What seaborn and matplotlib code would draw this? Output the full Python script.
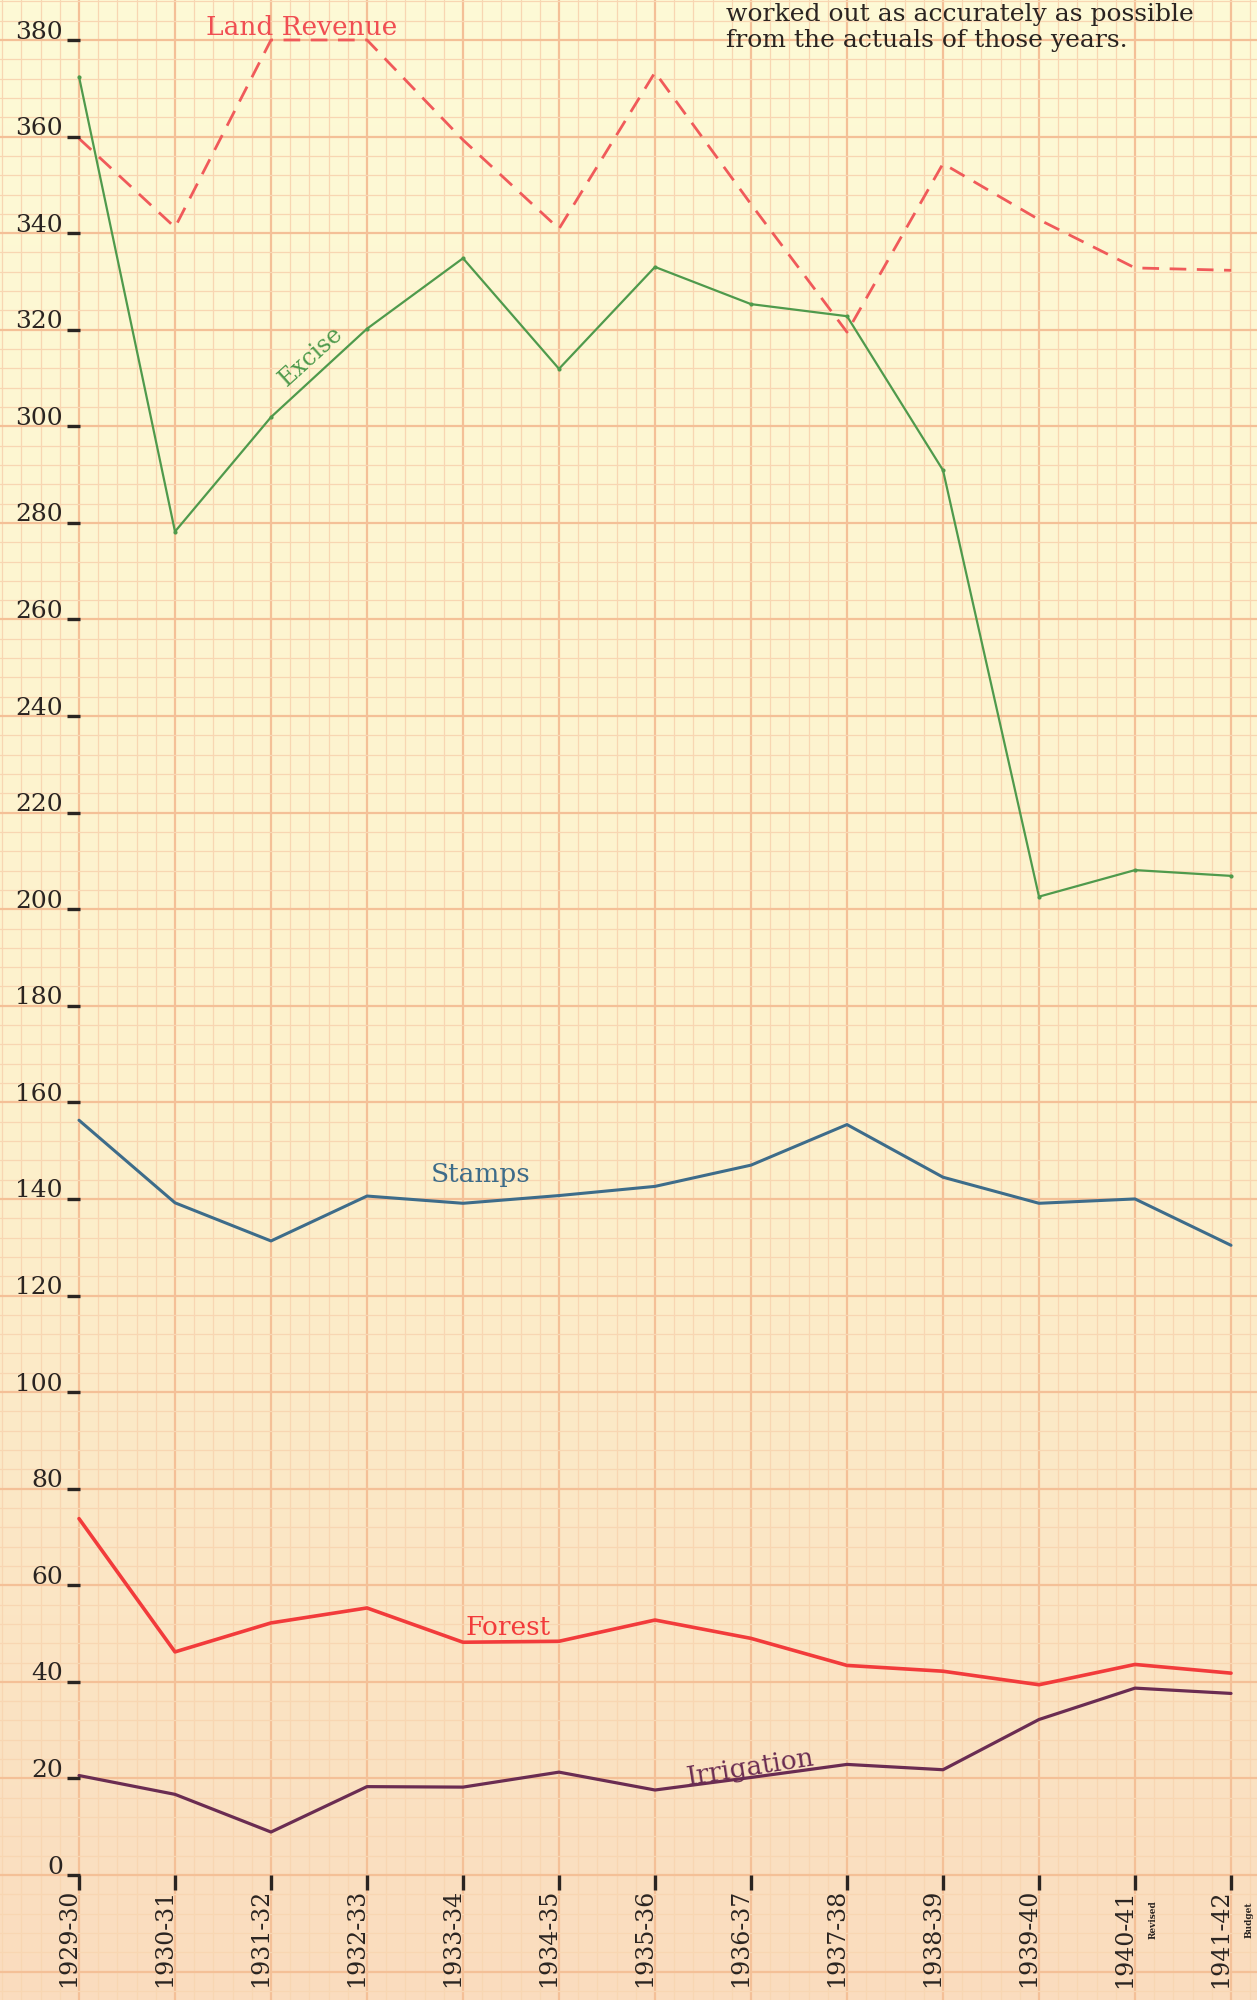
import numpy as np
import pandas as pd
import matplotlib
matplotlib.use("Agg")
import matplotlib.pyplot as plt
import seaborn as sns

# ---------------- data ----------------
years = ["1929-30", "1930-31", "1931-32", "1932-33", "1933-34", "1934-35", "1935-36",
         "1936-37", "1937-38", "1938-39", "1939-40", "1940-41", "1941-42"]
land_revenue = [359.6, 341.2, 380.0, 380.0, 359.3, 340.9, 373.3, 346.0, 319.5, 354.4, 342.8, 332.8, 332.3]
excise = [372.4, 278.2, 301.9, 320.2, 334.8, 311.9, 333.0, 325.3, 322.8, 290.9, 202.6, 208.1, 206.9]
stamps = [156.3, 139.2, 131.3, 140.6, 139.1, 140.7, 142.6, 147.0, 155.4, 144.5, 139.1, 140.0, 130.4]
forest = [73.8, 46.2, 52.2, 55.3, 48.2, 48.4, 52.8, 49.0, 43.4, 42.2, 39.4, 43.6, 41.8]
irrigation = [20.6, 16.7, 8.9, 18.3, 18.2, 21.3, 17.6, 20.2, 22.9, 21.8, 32.2, 38.7, 37.6]
y_ticks = list(range(0, 381, 20))
notes = ["worked out as accurately as possible", "from the actuals of those years."]
sub_notes = {"1940-41": "Revised", "1941-42": "Budget"}

df = pd.DataFrame({"x": np.arange(len(years)), "year": years,
                   "Land Revenue": land_revenue, "Excise": excise, "Stamps": stamps,
                   "Forest": forest, "Irrigation": irrigation})

# ---------------- figure ----------------
sns.set_style("white")
plt.rcParams["font.family"] = ["DejaVu Serif", "DejaVu Sans"]

W, H, DPI = 1257, 2000, 100
fig = plt.figure(figsize=(W / DPI, H / DPI), dpi=DPI)
ax = fig.add_axes([0, 0, 1, 1])

X0, XS = 79.0, 96.0          # pixel of first year, pixels per year
Y0, YS = 1875.0, 4.829       # pixel (from top) of value 0, pixels per unit
px2x = lambda px: (px - X0) / XS
py2y = lambda py: (Y0 - py) / YS

xlim = (px2x(0), px2x(W))
ylim = (py2y(H), py2y(0))

# ---------------- series ----------------
sns.lineplot(data=df, x="x", y="Land Revenue", ax=ax, color="#f05a5a", lw=2.0,
             linestyle=(0, (6.0, 3.8)), zorder=5)
sns.lineplot(data=df, x="x", y="Excise", ax=ax, color="#4f9a4c", lw=1.6,
             marker="o", markersize=3, markeredgewidth=0, zorder=5)
sns.lineplot(data=df, x="x", y="Stamps", ax=ax, color="#3d6c8a", lw=2.2, zorder=5)
sns.lineplot(data=df, x="x", y="Forest", ax=ax, color="#f23b3b", lw=2.6, zorder=5)
sns.lineplot(data=df, x="x", y="Irrigation", ax=ax, color="#6a2c52", lw=2.3, zorder=5)
ax.set_xlabel("")
ax.set_ylabel("")

# paper background gradient
grad = np.linspace(0, 1, 400)[:, None]
top = np.array([254, 250, 214]) / 255
mid = np.array([253, 241, 204]) / 255
bot = np.array([250, 220, 190]) / 255
col = np.where(grad < 0.55, top + (mid - top) * (grad / 0.55),
               mid + (bot - mid) * ((grad - 0.55) / 0.45))
img = col.reshape(400, 1, 3)
ax.imshow(img, extent=(xlim[0], xlim[1], ylim[0], ylim[1]), origin="upper",
          aspect="auto", zorder=0)

# graph paper grid
ax.set_xticks(np.arange(-1, 14, 1.0))
ax.set_xticks(np.arange(-1, 14, 0.2), minor=True)
ax.set_yticks(np.arange(-40, 420, 20))
ax.set_yticks(np.arange(-40, 420, 4), minor=True)
ax.grid(which="minor", color="#f8d6b2", lw=0.9, zorder=1)
ax.grid(which="major", color="#f4c097", lw=1.6, zorder=1)
ax.set_axisbelow(True)
ax.tick_params(which="both", length=0, labelbottom=False, labelleft=False)
for s in ax.spines.values():
    s.set_visible(False)

# ---------------- axis marks and labels ----------------
ink = "#2a2421"
for v in y_ticks:
    ax.plot([px2x(67), px2x(80)], [v, v], color=ink, lw=2.4, solid_capstyle="butt", zorder=6)
    ax.text(px2x(63), v + 0.3, str(v), ha="right", va="baseline", fontsize=18, color=ink, zorder=7)

for i, yr in enumerate(df["year"]):
    ax.plot([i, i], [0, py2y(Y0 + 15)], color=ink, lw=2.4, solid_capstyle="butt", zorder=6)
    ax.text(i + px2x(X0 + 1), py2y(1889), yr, rotation=90, ha="right", va="top",
            fontsize=17, color=ink, zorder=7)
    if yr in sub_notes:
        ax.text(i + px2x(X0 + 18), py2y(1920), sub_notes[yr], rotation=90, ha="center",
                va="center", fontsize=6.5, fontweight="bold", color=ink, zorder=7)

# series labels
ax.text(px2x(302), py2y(35), "Land Revenue", ha="center", va="baseline",
        fontsize=19, color="#f04e52", zorder=7)
ax.text(px2x(311), py2y(356), "Excise", ha="center", va="center", rotation=42,
        fontsize=17, color="#4f9a4c", zorder=7)
ax.text(px2x(481), py2y(1182), "Stamps", ha="center", va="baseline",
        fontsize=19, color="#3d6c8a", zorder=7)
ax.text(px2x(508), py2y(1635), "Forest", ha="center", va="baseline",
        fontsize=19, color="#f23b3b", zorder=7)
ax.text(px2x(750), py2y(1768), "Irrigation", ha="center", va="center", rotation=9,
        fontsize=19, color="#6a2c52", zorder=7)

# note text (top right)
ax.text(px2x(726), py2y(21), notes[0], ha="left", va="baseline", fontsize=18, color=ink, zorder=7)
ax.text(px2x(726), py2y(47), notes[1], ha="left", va="baseline", fontsize=18, color=ink, zorder=7)

ax.set_autoscale_on(False)
ax.set_xlim(*xlim)
ax.set_ylim(*ylim)

fig.savefig("out.png", dpi=DPI)
